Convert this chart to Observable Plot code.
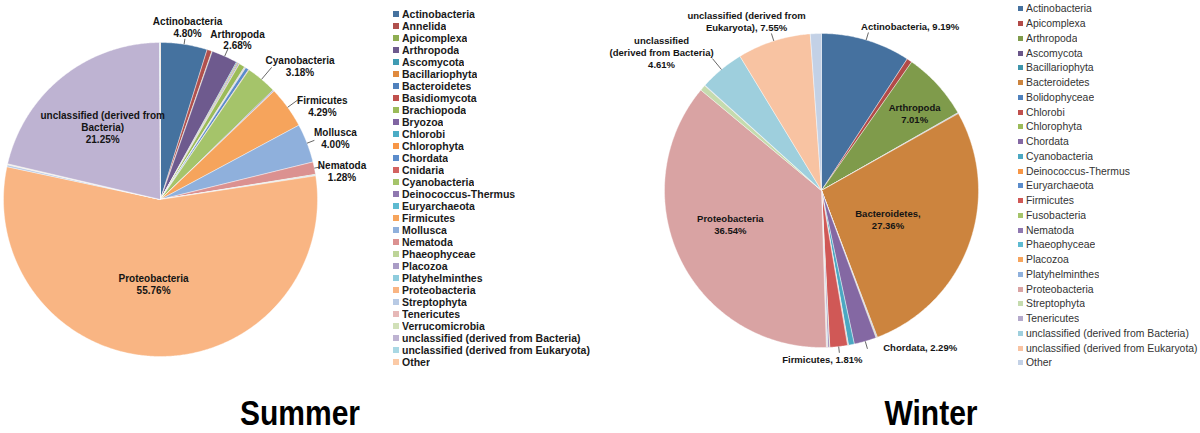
<!DOCTYPE html>
<html>
<head>
<meta charset="utf-8">
<script src="https://cdn.jsdelivr.net/npm/d3@7"></script>
<script src="https://cdn.jsdelivr.net/npm/@observablehq/plot@0.6"></script>
<style>
  body { margin: 0; background: #fff; }
  #page { position: relative; width: 1200px; height: 433px; overflow: hidden; background: #fff; font-family: "Liberation Sans", Arial, sans-serif; }
  .box { position: absolute; }
  .title { position: absolute; font-family: "Liberation Sans", Arial, sans-serif; font-weight: bold; font-size: 34.5px; line-height: 28px; height: 28px; color: #000; transform: translateX(-50%) scaleX(0.87); white-space: nowrap; }
  .sl-swatches { font: bold 10.5px "Liberation Sans", Arial, sans-serif; color: #1a1a1a; margin: 0; }
  .sl-swatch { height: 12px; padding-bottom: 0; }
  .sl-swatch > svg { margin-right: 3px; }
  .wl-swatches { font: 10.4px "Liberation Sans", Arial, sans-serif; color: #333; margin: 0; }
  .wl-swatch { height: 14.76px; padding-bottom: 0; }
  .wl-swatch > svg { margin-right: 3px; }
</style>
</head>
<body>
<div id="page"></div>
<script>
// ---------- data ----------
const summerNames = ["Actinobacteria","Annelida","Apicomplexa","Arthropoda","Ascomycota","Bacillariophyta","Bacteroidetes","Basidiomycota","Brachiopoda","Bryozoa","Chlorobi","Chlorophyta","Chordata","Cnidaria","Cyanobacteria","Deinococcus-Thermus","Euryarchaeota","Firmicutes","Mollusca","Nematoda","Phaeophyceae","Placozoa","Platyhelminthes","Proteobacteria","Streptophyta","Tenericutes","Verrucomicrobia","unclassified (derived from Bacteria)","unclassified (derived from Eukaryota)","Other"];
const summerValues = [4.80,0.51,0.05,2.68,0.10,0.10,0.10,0.05,0.60,0.05,0.05,0.05,0.35,0.05,3.18,0.10,0.05,4.29,4.00,1.28,0.05,0.05,0.05,55.76,0.20,0.05,0.05,21.25,0.05,0.05];

const winterNames = ["Actinobacteria","Apicomplexa","Arthropoda","Ascomycota","Bacillariophyta","Bacteroidetes","Bolidophyceae","Chlorobi","Chlorophyta","Chordata","Cyanobacteria","Deinococcus-Thermus","Euryarchaeota","Firmicutes","Fusobacteria","Nematoda","Phaeophyceae","Placozoa","Platyhelminthes","Proteobacteria","Streptophyta","Tenericutes","unclassified (derived from Bacteria)","unclassified (derived from Eukaryota)","Other"];
const winterValues = [9.19,0.55,7.01,0.05,0.05,27.36,0.05,0.05,0.05,2.29,0.60,0.05,0.05,1.81,0.05,0.15,0.05,0.05,0.05,36.54,0.60,0.05,4.61,7.55,1.14];

const titles = ["Summer", "Winter"];

// ---------- styles ----------
const summerColors = ["#45729F","#B0504D","#8FAE52","#6E5A8E","#3F9BB3","#E08A3E","#4F81BD","#C0504D","#9BBB59","#8064A2","#4BACC6","#F79646","#5B8CCB","#D36361","#A5C46A","#8F78B0","#5DBAD1","#F6A45C","#8FB0DC","#DB9190","#BDD498","#AA9CC6","#8ECCDD","#F9B583","#B8CAE4","#E6B8B7","#D1E0B8","#BEB3D2","#A9D8E4","#FBCAA6"];
const winterColors = ["#45719F","#B24A48","#7F9B4B","#6A5689","#3F95AB","#CC843E","#4F81BD","#C0504D","#9BBB59","#8468A3","#4BA8C2","#F79646","#5B8CCB","#D05856","#A5C46A","#8F78B0","#5DBAD1","#F6A45C","#8FB0DC","#D9A3A3","#C5DBAE","#B4A9CB","#9ECFDD","#F8C3A2","#C3D1E6"];

// label layout: radius (in pie radii), angular shift (deg), leader length (pie radii)
const summerLabels = [
  {name: "Actinobacteria", text: "Actinobacteria\n{v}", r: 1.11, turn: 0.3, leader: 0.035},
  {name: "Arthropoda", text: "Arthropoda\n{v}", r: 1.13, turn: 1.6, leader: 0.05},
  {name: "Cyanobacteria", text: "Cyanobacteria\n{v}", r: 1.23, turn: 6.2, leader: 0.1},
  {name: "Firmicutes", text: "Firmicutes\n{v}", r: 1.19, turn: 6, leader: 0.1},
  {name: "Mollusca", text: "Mollusca\n{v}", r: 1.18, turn: 1.8, leader: 0.05},
  {name: "Nematoda", text: "Nematoda\n{v}", r: 1.17, turn: 2.7, leader: 0.05},
  {name: "Proteobacteria", text: "Proteobacteria\n{v}", r: 0.54, turn: 3, leader: 0},
  {name: "unclassified (derived from Bacteria)", text: "unclassified (derived from\nBacteria)\n{v}", r: 0.59, turn: 0, leader: 0}
];
const winterLabels = [
  {name: "Actinobacteria", text: "Actinobacteria, {v}", r: 1.19, turn: 11.8, leader: 0.05},
  {name: "Arthropoda", text: "Arthropoda\n{v}", r: 0.77, turn: 2.7, leader: 0},
  {name: "Bacteroidetes", text: "Bacteroidetes,\n{v}", r: 0.46, turn: 3.1, leader: 0},
  {name: "Chordata", text: "Chordata, {v}", r: 1.18, turn: -16, leader: 0.05},
  {name: "Firmicutes", text: "Firmicutes, {v}", r: 1.076, turn: 6, leader: 0.04},
  {name: "Proteobacteria", text: "Proteobacteria\n{v}", r: 0.62, turn: 5.5, leader: 0},
  {name: "unclassified (derived from Bacteria)", text: "unclassified\n(derived from Bacteria)\n{v}", r: 1.346, turn: -9.6, leader: 0.09},
  {name: "unclassified (derived from Eukaryota)", text: "unclassified (derived from\nEukaryota), {v}", r: 1.178, turn: -6.2, leader: 0.05}
];

const page = document.getElementById("page");

function place(el, left, top, width) {
  const d = document.createElement("div");
  d.className = "box";
  d.style.left = left + "px";
  d.style.top = top + "px";
  if (width) d.style.width = width + "px";
  d.appendChild(el);
  page.appendChild(d);
  return d;
}

function pie({names, values, colors, labels, cx, cy, R, width, height, labelSize, lineHeight}) {
  const rows = names.map((name, i) => ({name, value: values[i]}));
  const arcs = d3.pie().sort(null).value(d => d.value)(rows);
  const pts = [];
  for (const a of arcs) {
    const n = Math.max(2, Math.ceil((a.endAngle - a.startAngle) / (Math.PI / 360)));
    pts.push({name: a.data.name, u: 0, v: 0});
    for (let k = 0; k <= n; k++) {
      const t = a.startAngle + (a.endAngle - a.startAngle) * k / n;
      pts.push({name: a.data.name, u: Math.sin(t), v: Math.cos(t)});
    }
    pts.push({name: a.data.name, u: 0, v: 0});
  }
  const mids = new Map(arcs.map(a => [a.data.name, {mid: (a.startAngle + a.endAngle) / 2, value: a.data.value}]));
  const lab = labels.map(l => {
    const m = mids.get(l.name);
    const th = m.mid + l.turn * Math.PI / 180;
    return {
      text: l.text.replace("{v}", m.value.toFixed(2) + "%"),
      x: l.r * Math.sin(th), y: l.r * Math.cos(th),
      x1: Math.sin(m.mid), y1: Math.cos(m.mid),
      x2: (1 + l.leader) * Math.sin(m.mid), y2: (1 + l.leader) * Math.cos(m.mid),
      leader: l.leader
    };
  });
  return Plot.plot({
    width, height, margin: 0,
    style: {background: "transparent", overflow: "visible"},
    x: {domain: [-1, 1], range: [cx - R, cx + R], axis: null},
    y: {domain: [-1, 1], range: [cy + R, cy - R], axis: null},
    color: {domain: names, range: colors},
    marks: [
      Plot.line(pts, {x: "u", y: "v", z: "name", fill: "name", stroke: "white", strokeWidth: 0.5, strokeOpacity: 0.8}),
      Plot.link(lab.filter(d => d.leader > 0), {x1: "x1", y1: "y1", x2: "x2", y2: "y2", stroke: "#404040", strokeWidth: 0.8}),
      Plot.text(lab, {x: "x", y: "y", text: "text", fontSize: labelSize, fontWeight: "bold", fill: "#141414", lineHeight, fontFamily: "Liberation Sans, Arial, sans-serif"})
    ]
  });
}

// Summer
place(pie({names: summerNames, values: summerValues, colors: summerColors, labels: summerLabels,
  cx: 160, cy: 199, R: 157, width: 385, height: 380, labelSize: 10, lineHeight: 1.2}), 0, 0);
place(Plot.legend({color: {type: "ordinal", domain: summerNames, range: summerColors}, legend: "swatches",
  columns: 1, swatchSize: 6, className: "sl"}), 393, 8, 210);

// Winter
const wLeft = 590;
place(pie({names: winterNames, values: winterValues, colors: winterColors, labels: winterLabels,
  cx: 821 - wLeft, cy: 190, R: 157, width: 420, height: 380, labelSize: 9.5, lineHeight: 1.26}), wLeft, 0);
place(Plot.legend({color: {type: "ordinal", domain: winterNames, range: winterColors}, legend: "swatches",
  columns: 1, swatchSize: 5, className: "wl"}), 1018, 1.6, 182);

// Titles
[[titles[0], 300], [titles[1], 931]].forEach(([t, x]) => {
  const d = document.createElement("div");
  d.className = "title";
  d.style.left = x + "px";
  d.style.top = "399px";
  d.textContent = t;
  page.appendChild(d);
});
</script>
</body>
</html>
